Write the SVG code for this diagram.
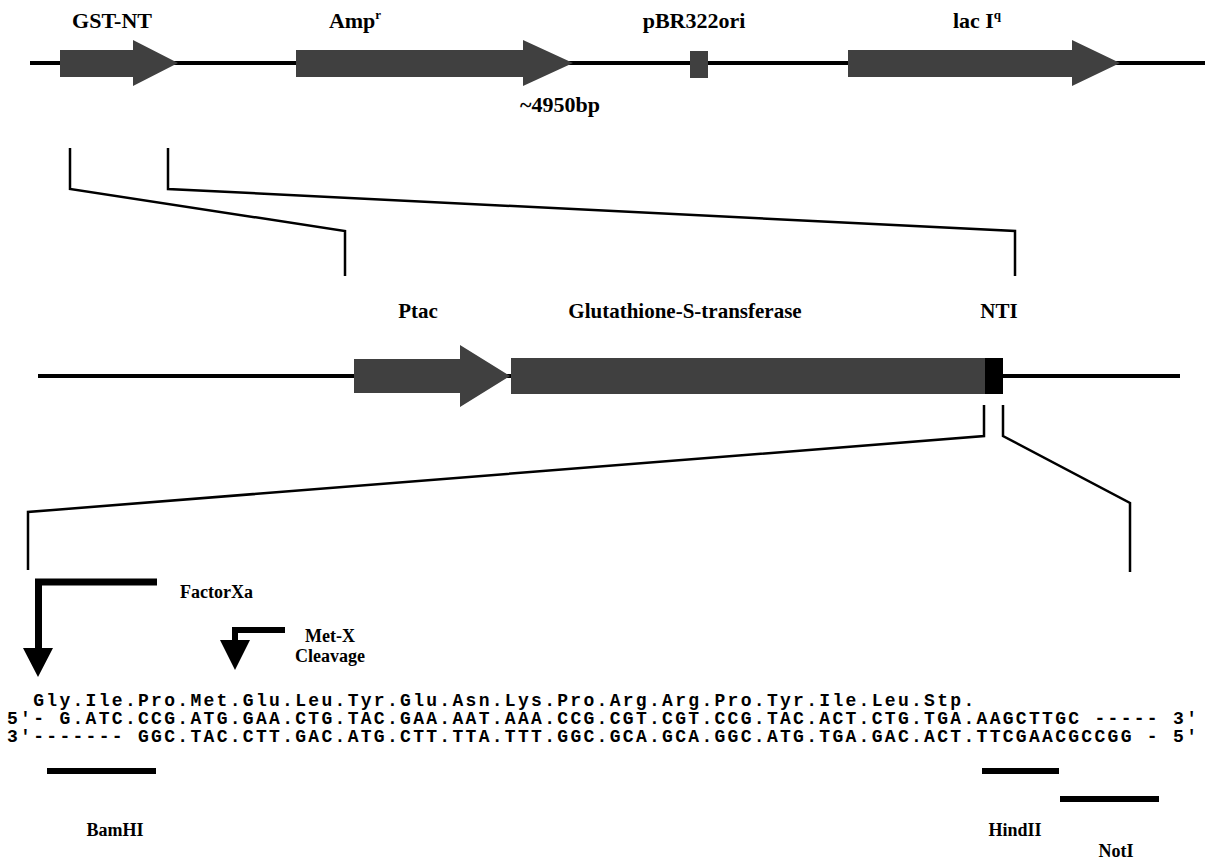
<svg xmlns="http://www.w3.org/2000/svg" width="1207" height="859" viewBox="0 0 1207 859">
<style>
.bb{stroke:#000;stroke-width:4;fill:none}
.gene{fill:#404040}
.lbl{font-family:"Liberation Serif","Times New Roman",serif;font-weight:bold;font-size:22px;fill:#000}
.mlbl{font-family:"Liberation Serif","Times New Roman",serif;font-weight:bold;font-size:21px;fill:#000}
.sm{font-family:"Liberation Serif","Times New Roman",serif;font-weight:bold;font-size:18px;fill:#000}
.seq{font-family:"Liberation Mono","Courier New",monospace;font-weight:bold;font-size:18px;letter-spacing:2.3px;fill:#000}
.con{stroke:#000;stroke-width:2.5;fill:none}
.bar{fill:#000}
</style>
<rect width="1207" height="859" fill="#fff"/>
<g id="top-backbone"><line class="bb" x1="30" y1="63" x2="1205" y2="63"/></g>
<g id="gst-nt">
<path class="gene" d="M60,50 H133 V40 L178,63 L133,86 V77 H60 Z"/>
<text class="lbl" x="112" y="28" text-anchor="middle">GST-NT</text>
</g>
<g id="ampr">
<path class="gene" d="M296,50 H523 V40 L573,63 L523,86 V77 H296 Z"/>
<text class="lbl" x="355" y="28" text-anchor="middle">Amp<tspan font-size="13" dy="-9">r</tspan></text>
</g>
<g id="ori">
<rect class="gene" x="690" y="51" width="18" height="27"/>
<text class="lbl" x="694" y="28" text-anchor="middle">pBR322ori</text>
</g>
<g id="laciq">
<path class="gene" d="M848,50 H1072 V40 L1120,63 L1072,86 V77 H848 Z"/>
<text class="lbl" x="977" y="28" text-anchor="middle">lac I<tspan font-size="13" dy="-9">q</tspan></text>
</g>
<g id="size-label"><text class="lbl" x="560" y="112" text-anchor="middle">~4950bp</text></g>
<g id="mid-backbone"><line class="bb" x1="38" y1="376" x2="1180" y2="376"/></g>
<g id="ptac">
<path class="gene" d="M354,359 H460 V345 L510,376 L460,407 V393 H354 Z"/>
<text class="mlbl" x="418" y="318" text-anchor="middle">Ptac</text>
</g>
<g id="gst">
<rect class="gene" x="511" y="358" width="474" height="36"/>
<text class="mlbl" x="685" y="318" text-anchor="middle">Glutathione-S-transferase</text>
</g>
<g id="nti">
<rect x="985" y="358" width="18" height="36" fill="#000"/>
<text class="mlbl" x="999" y="318" text-anchor="middle">NTI</text>
</g>
<g id="connectors">
<path class="con" d="M70,148 V189 L345,231 V276"/>
<path class="con" d="M168,148 V189 L1015,231 V276"/>
<path class="con" d="M984,405 V436 L28,512 V570"/>
<path class="con" d="M1003,405 V436 L1130,503 V572"/>
</g>
<g id="factorxa">
<path d="M157,578.5 H35 V648 H23 L38,677 L53,648 H42 V585.5 H157 Z" fill="#000"/>
<text class="sm" x="180" y="598">FactorXa</text>
</g>
<g id="metx">
<path d="M285,627 H232 V640 H220 L235,670 L250,640 H238 V633 H285 Z" fill="#000"/>
<text class="sm" x="330" y="642" text-anchor="middle">Met-X</text>
<text class="sm" x="330" y="662" text-anchor="middle">Cleavage</text>
</g>
<g id="sequence">
<text class="seq" x="33.2" y="706">Gly.Ile.Pro.Met.Glu.Leu.Tyr.Glu.Asn.Lys.Pro.Arg.Arg.Pro.Tyr.Ile.Leu.Stp.</text>
<text class="seq" x="7" y="724" xml:space="preserve">5'- G.ATC.CCG.ATG.GAA.CTG.TAC.GAA.AAT.AAA.CCG.CGT.CGT.CCG.TAC.ACT.CTG.TGA.AAGCTTGC ----- 3'</text>
<text class="seq" x="7" y="742" xml:space="preserve">3'------- GGC.TAC.CTT.GAC.ATG.CTT.TTA.TTT.GGC.GCA.GCA.GGC.ATG.TGA.GAC.ACT.TTCGAACGCCGG - 5'</text>
</g>
<g id="bamhi">
<rect class="bar" x="47" y="768" width="109" height="6"/>
<text class="sm" x="115" y="836" text-anchor="middle">BamHI</text>
</g>
<g id="hindii">
<rect class="bar" x="982" y="768" width="77" height="6"/>
<text class="sm" x="1015" y="836" text-anchor="middle">HindII</text>
</g>
<g id="noti">
<rect class="bar" x="1060" y="796" width="99" height="6"/>
<text class="sm" x="1116" y="857" text-anchor="middle">NotI</text>
</g>
</svg>
